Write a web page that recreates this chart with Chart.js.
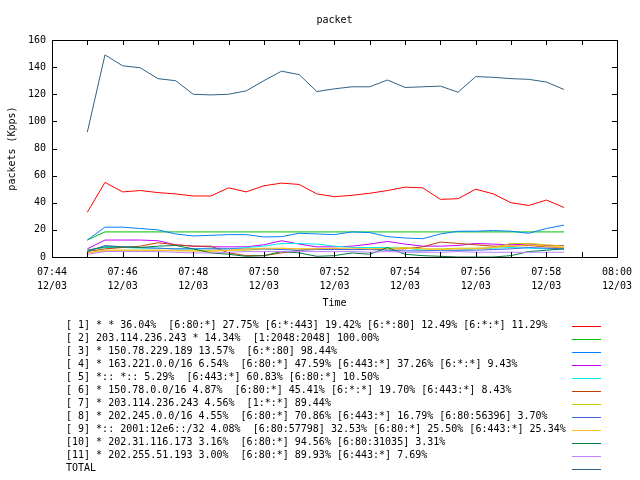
<!DOCTYPE html>
<html>
<head>
<meta charset="utf-8">
<title>packet</title>
<script src="https://cdn.jsdelivr.net/npm/chart.js@4/dist/chart.umd.min.js"></script>
<style>
    html, body { margin: 0; padding: 0; background: #fff; }
    #packetChart { display: block; }
</style>
</head>
<body>
<canvas id="packetChart" width="640" height="480"></canvas>
<script>
// sample times (30 s steps)
var times = ['07:45:00', '07:45:30', '07:46:00', '07:46:30', '07:47:00', '07:47:30', '07:48:00',
    '07:48:30', '07:49:00', '07:49:30', '07:50:00', '07:50:30', '07:51:00', '07:51:30',
    '07:52:00', '07:52:30', '07:53:00', '07:53:30', '07:54:00', '07:54:30', '07:55:00',
    '07:55:30', '07:56:00', '07:56:30', '07:57:00', '07:57:30', '07:58:00', '07:58:30'];

var xTickLabels = ['07:44', '07:45', '07:46', '07:47', '07:48', '07:49', '07:50', '07:51', '07:52',
    '07:53', '07:54', '07:55', '07:56', '07:57', '07:58', '07:59', '08:00'];
var xTickDate = '12/03';
var yTicks = [0, 20, 40, 60, 80, 100, 120, 140, 160];

var seriesLabels = [
    '[ 1] * * 36.04%  [6:80:*] 27.75% [6:*:443] 19.42% [6:*:80] 12.49% [6:*:*] 11.29%',
    '[ 2] 203.114.236.243 * 14.34%  [1:2048:2048] 100.00%',
    '[ 3] * 150.78.229.189 13.57%  [6:*:80] 98.44%',
    '[ 4] * 163.221.0.0/16 6.54%  [6:80:*] 47.59% [6:443:*] 37.26% [6:*:*] 9.43%',
    '[ 5] *:: *:: 5.29%  [6:443:*] 60.83% [6:80:*] 10.50%',
    '[ 6] * 150.78.0.0/16 4.87%  [6:80:*] 45.41% [6:*:*] 19.70% [6:443:*] 8.43%',
    '[ 7] * 203.114.236.243 4.56%  [1:*:*] 89.44%',
    '[ 8] * 202.245.0.0/16 4.55%  [6:80:*] 70.86% [6:443:*] 16.79% [6:80:56396] 3.70%',
    '[ 9] *:: 2001:12e6::/32 4.08%  [6:80:57798] 32.53% [6:80:*] 25.50% [6:443:*] 25.34%',
    '[10] * 202.31.116.173 3.16%  [6:80:*] 94.56% [6:80:31035] 3.31%',
    '[11] * 202.255.51.193 3.00%  [6:80:*] 89.93% [6:443:*] 7.69%',
    'TOTAL'
];

var s1 = [33, 55, 48, 49, 47.5, 46.5, 45, 45, 51, 48, 52.5, 54.5, 53.5, 46.5, 44.5, 45.5, 47, 49, 51.5, 51, 42.5, 43, 50, 46.5, 40, 38, 42, 36.5];
var s2 = [12.5, 18.5, 18.5, 18.5, 18.5, 18.5, 18.5, 18.5, 18.5, 18.5, 18.5, 18.5, 18.5, 18.5, 18.5, 18.5, 18.5, 18.5, 18.5, 18.5, 18.5, 18.5, 18.5, 18.5, 18.5, 18.5, 18.5, 18.5];
var s3 = [12.5, 22, 22, 21, 20, 17, 15.5, 16, 16.5, 16.5, 14.8, 15, 17.5, 17, 16.5, 18.5, 18, 15, 14, 13.5, 17, 19, 19, 19.5, 19, 17.5, 21, 23.5];
var s4 = [6, 12.5, 12.5, 12.5, 12, 9, 8, 7.5, 7.5, 7.5, 9, 12, 9.5, 7.5, 7.5, 8, 9.5, 11.5, 9.5, 8, 8, 8.5, 10, 9.5, 9, 9.5, 8.5, 8.5];
var s5 = [5, 7, 7, 6.5, 6.5, 6, 6, 6.5, 6, 7, 8, 10, 10, 9.5, 8, 7, 7, 7, 6.5, 5, 5, 5, 6, 6.5, 7, 6.5, 6, 6];
var s6 = [4, 6, 7, 8, 10.5, 9, 8, 8, 3, 1, 1, 3, 5, 6, 6, 5.5, 5.5, 6, 6, 7.5, 11, 10, 9, 8, 8, 8.5, 7.5, 7];
var s7 = [3, 5, 5, 5, 5, 5, 4.5, 5, 5, 5, 6, 6, 6, 6, 5.5, 5.5, 6, 6, 7, 6, 6, 6.5, 6.5, 7, 10, 10, 9, 8];
var s8 = [4, 8.5, 7.5, 7, 6.5, 6, 6, 6, 6, 6, 6, 5.5, 5, 5.5, 5.5, 5.5, 5.5, 5, 4.5, 4.5, 5, 5, 5, 5.5, 6, 7, 6.5, 6];
var s9 = [3, 4.5, 5, 5, 5, 4.5, 4.5, 4, 5, 6, 6.5, 6.5, 6, 6, 6.5, 6.5, 6, 6.5, 6.5, 6, 5.5, 6, 6, 7, 8, 9, 8, 7];
var s10 = [5, 7.5, 7.5, 7, 8, 8.5, 6, 3, 2, 0.5, 1, 4, 3, 0.5, 1, 3, 2, 7, 2, 1, 0.5, 0, 0, 0, 1, 4, 5, 6];
var s11 = [2, 4, 4, 4, 4, 3.5, 3, 3, 3.5, 4, 4, 4, 4, 4, 4, 4, 3.5, 4, 3.5, 3.5, 3.5, 4, 3.5, 3.5, 3.5, 3.5, 3.5, 3.5];
var total = [92, 149, 141, 139.5, 131.5, 130, 120, 119.5, 120, 122.5, 130, 137, 134.5, 122, 124, 125.5, 125.5, 130.5, 125, 125.5, 126, 121.5, 133, 132.5, 131.5, 131, 129, 123.5];

var seriesValues = [s1, s2, s3, s4, s5, s6, s7, s8, s9, s10, s11, total];

// gnuplot default line colours
var colors = ['#ff0000', '#00c000', '#0080ff', '#c000ff', '#00eeee', '#c04000',
    '#c8c800', '#4169e1', '#ffc020', '#008040', '#c080ff', '#306080'];

var FONT = 'DejaVu Sans Mono';

// minutes after 07:44
function toMinutes(t) {
    var p = t.split(':');
    return (parseInt(p[0], 10) * 60 + parseInt(p[1], 10) + parseInt(p[2], 10) / 60) - (7 * 60 + 44);
}

var datasets = [];
for (var i = 0; i < seriesValues.length; i++) {
    var pts = [];
    for (var j = 0; j < times.length; j++) {
        pts.push({ x: toMinutes(times[j]), y: seriesValues[i][j] });
    }
    datasets.push({
        label: seriesLabels[i],
        data: pts,
        borderColor: colors[i],
        backgroundColor: colors[i],
        borderWidth: 1,
        pointRadius: 0,
        tension: 0,
        order: seriesValues.length - i
    });
}

// frame, inward ticks, title and key (gnuplot look)
var gnuplotLook = {
    id: 'gnuplotLook',
    afterDraw: function (chart) {
        var ctx = chart.ctx;
        var a = chart.chartArea;
        var xs = chart.scales.x, ys = chart.scales.y;
        var tl = 5;
        ctx.save();
        ctx.strokeStyle = '#000';
        ctx.lineWidth = 1;
        ctx.strokeRect(Math.round(a.left) + 0.5, Math.round(a.top) + 0.5,
            Math.round(a.right - a.left), Math.round(a.bottom - a.top));
        ctx.beginPath();
        xs.ticks.forEach(function (t) {
            var px = Math.round(xs.getPixelForValue(t.value)) + 0.5;
            ctx.moveTo(px, a.bottom); ctx.lineTo(px, a.bottom - tl);
            ctx.moveTo(px, a.top); ctx.lineTo(px, a.top + tl);
        });
        ys.ticks.forEach(function (t) {
            var py = Math.round(ys.getPixelForValue(t.value)) + 0.5;
            ctx.moveTo(a.left, py); ctx.lineTo(a.left + tl, py);
            ctx.moveTo(a.right, py); ctx.lineTo(a.right - tl, py);
        });
        ctx.stroke();

        ctx.fillStyle = '#000';
        ctx.font = '10px ' + FONT;
        ctx.textAlign = 'center';
        ctx.textBaseline = 'middle';
        ctx.fillText('packet', (a.left + a.right) / 2, 20);

        // key
        ctx.textAlign = 'left';
        chart.data.datasets.forEach(function (ds, k) {
            var y = 325.5 + 13 * k;
            ctx.fillStyle = '#000';
            ctx.fillText(ds.label, 66, y);
            ctx.strokeStyle = ds.borderColor;
            ctx.beginPath();
            ctx.moveTo(572, Math.round(y) + 0.5);
            ctx.lineTo(601, Math.round(y) + 0.5);
            ctx.stroke();
        });
        ctx.restore();
    }
};

var ctx = document.getElementById('packetChart').getContext('2d');
var chart = new Chart(ctx, {
    type: 'line',
    data: { datasets: datasets },
    plugins: [gnuplotLook],
    options: {
        responsive: false,
        animation: false,
        events: [],
        layout: { padding: { top: 40, right: 19, bottom: 170, left: 0 } },
        plugins: {
            legend: { display: false },
            title: { display: false },
            tooltip: { enabled: false }
        },
        scales: {
            x: {
                type: 'linear',
                min: 0,
                max: xTickLabels.length - 1,
                grid: { display: false, drawTicks: false },
                border: { display: false },
                ticks: {
                    stepSize: 1,
                    autoSkip: false,
                    maxRotation: 0,
                    padding: 8,
                    color: '#000',
                    font: { family: FONT, size: 10, lineHeight: 1.4 },
                    callback: function (v) {
                        var k = Math.round(v);
                        if (k % 2 !== 0) return '';
                        return [xTickLabels[k], xTickDate];
                    }
                },
                title: {
                    display: true,
                    text: 'Time',
                    color: '#000',
                    padding: { top: 0, bottom: 1 },
                    font: { family: FONT, size: 10, lineHeight: 1.2 }
                },
                afterFit: function (scale) { scale.height = 53; }
            },
            y: {
                min: yTicks[0],
                max: yTicks[yTicks.length - 1],
                grid: { display: false, drawTicks: false },
                border: { display: false },
                afterBuildTicks: function (scale) {
                    scale.ticks = yTicks.map(function (v) { return { value: v }; });
                },
                ticks: {
                    padding: 6,
                    color: '#000',
                    font: { family: FONT, size: 10 }
                },
                title: {
                    display: true,
                    text: 'packets (Kpps)',
                    color: '#000',
                    padding: { top: 6, bottom: 0 },
                    font: { family: FONT, size: 10, lineHeight: 1.2 }
                },
                afterFit: function (scale) { scale.width = 52; }
            }
        }
    }
});
</script>
</body>
</html>
